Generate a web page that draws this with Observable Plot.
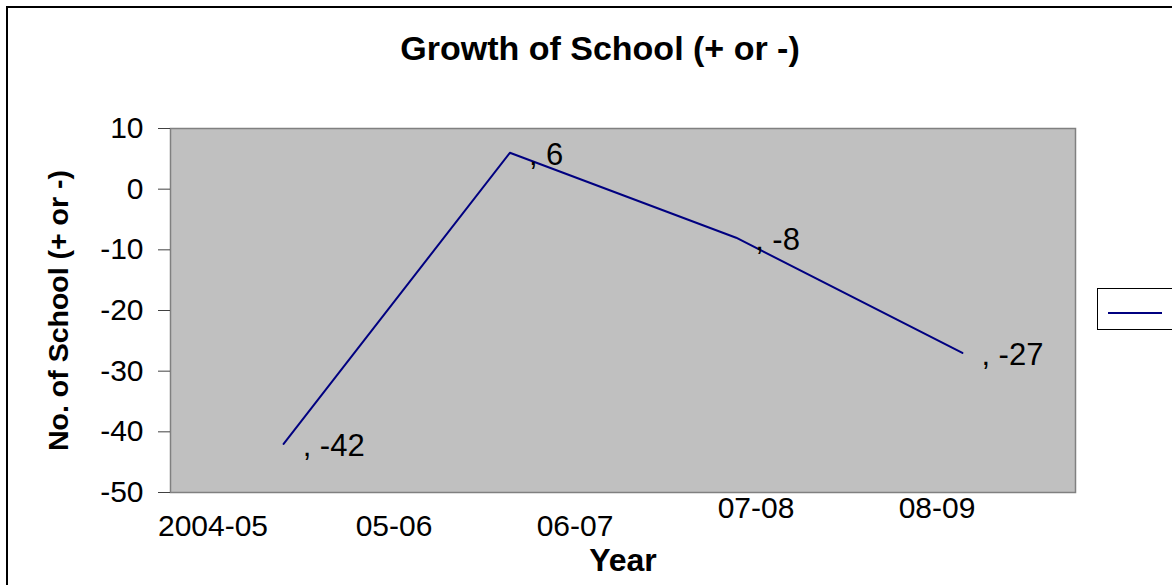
<!DOCTYPE html>
<html>
<head>
<meta charset="utf-8">
<script src="https://cdn.jsdelivr.net/npm/d3@7"></script>
<script src="https://cdn.jsdelivr.net/npm/@observablehq/plot@0.6"></script>
<style>
  html, body { margin: 0; padding: 0; background: #fff; overflow: hidden; }
  body { width: 1172px; height: 585px; position: relative; font-family: "Liberation Sans", Arial, sans-serif; }
  #border { position: absolute; left: 6px; top: 6px; width: 2000px; height: 2000px;
            border-left: 2px solid #000; border-top: 2px solid #000; pointer-events: none; }
  #title { width: 1200px; height: 90px; box-sizing: border-box; padding-top: 28px;
           text-align: center; font-weight: bold; font-size: 34px; line-height: 40px; color: #000; }
  #chart svg { display: block; }
  #legend { position: absolute; left: 1097px; top: 288px; width: 120px; height: 40px;
            border: 1.5px solid #000; background: #fff; }
  #legend .swatch { position: absolute; left: 10px; top: 23px; width: 54px; height: 2px; background: #000080; }
</style>
</head>
<body>
<div id="title">Growth of School (+ or -)</div>
<div id="chart"></div>
<div id="legend"><div class="swatch"></div></div>
<div id="border"></div>
<script>
// Year labels on the category axis and yearly change in the number of schools
const years = ["2004-05", "05-06", "06-07", "07-08", "08-09"];
const growth = [-42, 6, -8, -27];
const yTicks = [-50, -40, -30, -20, -10, 0, 10];
const xTitle = "Year";
const yTitle = "No. of School (+ or -)";

// Each growth value sits in the middle of its own slot along x
const series = growth.map((value, i) => ({pos: i + 0.5, value}));

// Year labels are spread over five evenly spaced slots; the last two sit one row higher
const labelPos = i => (i + 0.5) * growth.length / years.length;
const labelRow = i => (i < 3 ? 34 : 16);

const font = "'Liberation Sans', Arial, sans-serif";

const chart = Plot.plot({
  width: 1172,
  height: 495,
  marginLeft: 170,
  marginRight: 97,
  marginTop: 38,
  marginBottom: 93,
  style: {fontFamily: font, fontSize: "30px", color: "#000", background: "transparent", overflow: "visible"},
  x: {domain: [0, growth.length], axis: null},
  y: {domain: [-50, 10], axis: null},
  marks: [
    Plot.frame({fill: "#c0c0c0", stroke: "#808080", strokeWidth: 1.5}),
    Plot.axisY({ticks: yTicks, tickFormat: d => String(d), tickSize: 12, tickPadding: 15,
                fontSize: 30, stroke: "#404040", label: null}),
    Plot.line(series, {x: "pos", y: "value", stroke: "#000080", strokeWidth: 2}),
    Plot.text(series, {x: "pos", y: "value", text: d => `, ${d.value}`, textAnchor: "start",
                       lineAnchor: "middle", dx: 19, dy: 2, fontSize: 31, fill: "#000"}),
    ...years.map((label, i) =>
      Plot.text([label], {x: () => labelPos(i), text: d => d, frameAnchor: "bottom", lineAnchor: "middle",
                          dx: -48, dy: labelRow(i), fontSize: 30, fill: "#000"})),
    Plot.text([xTitle], {frameAnchor: "bottom", lineAnchor: "middle", dy: 68,
                         fontSize: 32, fontWeight: "bold", fill: "#000"}),
    Plot.text([yTitle], {frameAnchor: "left", textAnchor: "middle", lineAnchor: "middle", rotate: -90,
                         dx: -112, fontSize: 28.5, fontWeight: "bold", fill: "#000"})
  ]
});

document.getElementById("chart").appendChild(chart);
</script>
</body>
</html>
